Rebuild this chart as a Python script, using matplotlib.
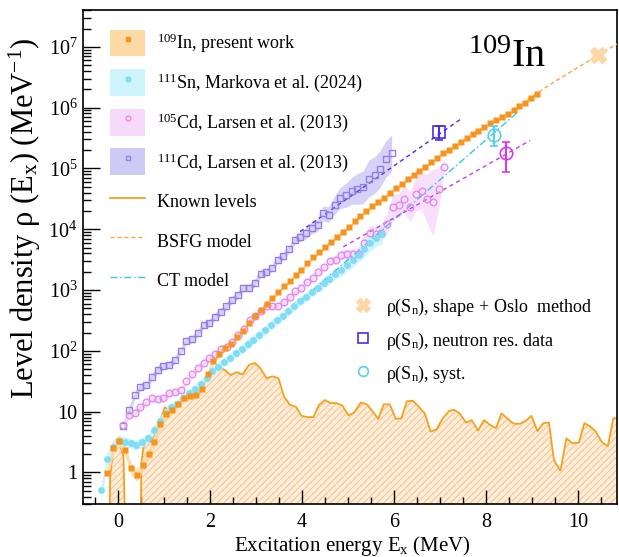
import numpy as np
import matplotlib
matplotlib.use('Agg')
import matplotlib.pyplot as plt
from matplotlib.patches import Patch
from matplotlib.lines import Line2D
from matplotlib.ticker import FixedLocator, NullFormatter

plt.rcParams['font.family'] = ['Liberation Serif', 'DejaVu Serif']
plt.rcParams['mathtext.fontset'] = 'custom'
plt.rcParams['mathtext.rm'] = 'Liberation Serif'
plt.rcParams['mathtext.it'] = 'Liberation Serif:italic'
plt.rcParams['hatch.linewidth'] = 0.8

# ---------------- data ----------------
# 109In, present work (log10 rho)
in109_E = [-0.23, -0.10, 0.03, 0.15, 0.28, 0.41, 0.54, 0.67, 0.79, 0.92,
           1.05, 1.18, 1.31, 1.43, 1.56, 1.69, 1.82, 1.95, 2.07, 2.20,
           2.33, 2.46, 2.59, 2.71, 2.84, 2.97, 3.10, 3.23, 3.35, 3.48,
           3.61, 3.74, 3.87, 3.99, 4.12, 4.25, 4.38, 4.51, 4.63, 4.76,
           4.89, 5.02, 5.15, 5.27, 5.40, 5.53, 5.66, 5.79, 5.91, 6.04,
           6.17, 6.30, 6.43, 6.55, 6.68, 6.81, 6.94, 7.07, 7.19, 7.32,
           7.45, 7.58, 7.71, 7.83, 7.96, 8.09, 8.22, 8.35, 8.47, 8.60,
           8.73, 8.86, 8.99, 9.11]
in109_log = [-0.015, 0.40, 0.52, 0.37, 0.07, -0.05, 0.13, 0.30, 0.50, 0.79,
             0.955, 1.02, 1.125, 1.22, 1.25, 1.27, 1.38, 1.62, 1.83, 1.95,
             2.04, 2.11, 2.22, 2.33, 2.46, 2.58, 2.67, 2.77, 2.87, 2.96,
             3.06, 3.15, 3.24, 3.33, 3.44, 3.54, 3.62, 3.70, 3.79, 3.88,
             3.96, 4.04, 4.13, 4.22, 4.30, 4.38, 4.45, 4.52, 4.60, 4.67,
             4.74, 4.82, 4.89, 4.96, 5.03, 5.10, 5.17, 5.25, 5.31, 5.37,
             5.44, 5.50, 5.56, 5.62, 5.68, 5.74, 5.79, 5.85, 5.90, 5.96,
             6.02, 6.08, 6.15, 6.23]
in109_err = [0.10, 0.10, 0.10, 0.10, 0.10, 0.10, 0.10, 0.10, 0.10, 0.10,
             0.06, 0.06, 0.06, 0.06, 0.06, 0.06, 0.06, 0.06, 0.06, 0.06,
             0.04, 0.04, 0.04, 0.04, 0.04, 0.03, 0.03, 0.03, 0.03, 0.03,
             0.03, 0.03, 0.03, 0.03, 0.03, 0.03, 0.03, 0.03, 0.03, 0.03,
             0.03, 0.03, 0.03, 0.03, 0.03, 0.03, 0.03, 0.03, 0.03, 0.03,
             0.03, 0.03, 0.03, 0.03, 0.03, 0.03, 0.03, 0.03, 0.03, 0.03,
             0.03, 0.03, 0.03, 0.03, 0.03, 0.03, 0.03, 0.03, 0.03, 0.03,
             0.03, 0.03, 0.03, 0.03]

# 111Sn, Markova et al. (2024)
sn111_E = [-0.36, -0.23, -0.11, 0.02, 0.15, 0.28, 0.40, 0.53, 0.66, 0.78,
           0.91, 1.04, 1.16, 1.29, 1.42, 1.55, 1.67, 1.80, 1.93, 2.05,
           2.18, 2.31, 2.43, 2.56, 2.69, 2.82, 2.94, 3.07, 3.20, 3.32,
           3.45, 3.58, 3.70, 3.83, 3.96, 4.09, 4.21, 4.34, 4.47, 4.59,
           4.72, 4.85, 4.97, 5.10, 5.23, 5.36, 5.48, 5.61, 5.74]
sn111_log = [-0.29, 0.22, 0.42, 0.52, 0.505, 0.48, 0.445, 0.50, 0.56, 0.70,
             0.84, 0.97, 1.07, 1.12, 1.22, 1.30, 1.38, 1.46, 1.56, 1.66,
             1.74, 1.82, 1.89, 1.96, 2.03, 2.11, 2.18, 2.26, 2.34, 2.42,
             2.50, 2.58, 2.66, 2.74, 2.82, 2.89, 2.96, 3.04, 3.11, 3.18,
             3.26, 3.33, 3.41, 3.49, 3.58, 3.68, 3.78, 3.86, 3.92]
sn111_err = [0.12, 0.12, 0.12, 0.10, 0.08, 0.08, 0.08, 0.08, 0.08, 0.08,
             0.08, 0.08, 0.08, 0.08, 0.08, 0.08, 0.08, 0.08, 0.08, 0.08,
             0.08, 0.08, 0.08, 0.08, 0.08, 0.08, 0.08, 0.08, 0.08, 0.08,
             0.08, 0.08, 0.08, 0.08, 0.08, 0.08, 0.08, 0.08, 0.08, 0.09,
             0.09, 0.10, 0.10, 0.12, 0.12, 0.14, 0.14, 0.15, 0.15]

# 105Cd, Larsen et al. (2013)
cd105_E = [0.12, 0.24, 0.37, 0.49, 0.62, 0.74, 0.87, 0.99, 1.12, 1.24,
           1.37, 1.49, 1.61, 1.74, 1.86, 1.99, 2.11, 2.24, 2.36, 2.49,
           2.61, 2.73, 2.86, 2.98, 3.11, 3.23, 3.36, 3.48, 3.61, 3.73,
           3.86, 3.98, 4.10, 4.23, 4.35, 4.48, 4.60, 4.73, 4.85, 4.98,
           5.10, 5.23, 5.35, 5.48, 5.60, 5.72, 5.85, 5.97, 6.10, 6.22,
           6.35, 6.47, 6.60, 6.72, 6.85, 6.97, 7.09]
cd105_log = [0.78, 0.95, 0.98, 1.08, 1.15, 1.22, 1.21, 1.22, 1.31, 1.32,
             1.35, 1.50, 1.62, 1.72, 1.80, 1.89, 1.95, 2.03, 2.07, 2.15,
             2.26, 2.36, 2.50, 2.58, 2.66, 2.73, 2.74, 2.74, 2.80, 2.88,
             2.98, 3.04, 3.13, 3.20, 3.29, 3.38, 3.48, 3.50, 3.58, 3.59,
             3.59, 3.60, 3.78, 3.94, 3.92, 3.94, 4.09, 4.37, 4.39, 4.50,
             4.37, 4.58, 4.63, 4.50, 4.44, 4.66, 5.03]
cd105_err = [0.05, 0.05, 0.05, 0.05, 0.05, 0.05, 0.05, 0.05, 0.05, 0.05,
             0.05, 0.05, 0.05, 0.05, 0.05, 0.05, 0.05, 0.05, 0.05, 0.05,
             0.05, 0.05, 0.05, 0.05, 0.05, 0.05, 0.05, 0.05, 0.05, 0.05,
             0.05, 0.05, 0.05, 0.05, 0.05, 0.05, 0.06, 0.07, 0.08, 0.08,
             0.09, 0.10, 0.12, 0.12, 0.13, 0.14, 0.16, 0.20, 0.20, 0.22,
             0.25, 0.28, 0.30, 0.40, 0.55, 0.35, 0.12]

# 111Cd, Larsen et al. (2013)
cd111_E = [0.12, 0.24, 0.37, 0.49, 0.62, 0.74, 0.86, 0.99, 1.11, 1.24,
           1.36, 1.48, 1.61, 1.73, 1.86, 1.98, 2.10, 2.23, 2.35, 2.48,
           2.60, 2.72, 2.85, 2.97, 3.10, 3.22, 3.34, 3.47, 3.59, 3.72,
           3.84, 3.96, 4.09, 4.21, 4.34, 4.46, 4.58, 4.71, 4.83, 4.96,
           5.08, 5.20, 5.33, 5.45, 5.58, 5.70, 5.82, 5.95]
cd111_log = [0.76, 1.03, 1.27, 1.41, 1.44, 1.57, 1.69, 1.75, 1.77, 1.85,
             2.00, 2.16, 2.19, 2.29, 2.42, 2.46, 2.56, 2.64, 2.73, 2.84,
             2.91, 3.03, 3.04, 3.11, 3.27, 3.29, 3.36, 3.49, 3.56, 3.67,
             3.82, 3.88, 3.93, 4.02, 4.07, 4.26, 4.24, 4.40, 4.51, 4.56,
             4.63, 4.66, 4.69, 4.83, 4.89, 4.99, 5.15, 5.25]
cd111_err = [0.06, 0.06, 0.06, 0.06, 0.06, 0.06, 0.06, 0.06, 0.06, 0.06,
             0.06, 0.06, 0.06, 0.06, 0.06, 0.06, 0.06, 0.06, 0.06, 0.06,
             0.06, 0.06, 0.06, 0.06, 0.06, 0.06, 0.06, 0.06, 0.06, 0.06,
             0.07, 0.08, 0.09, 0.10, 0.10, 0.12, 0.13, 0.15, 0.17, 0.20,
             0.22, 0.25, 0.27, 0.30, 0.30, 0.30, 0.30, 0.30]

# Known levels of 109In (log10 rho; -3 = no levels)
kl_E = [-0.30, -0.22, -0.17, -0.11, 0.02, 0.12, 0.22, 0.46, 0.51, 0.55,
        0.64, 0.71, 0.80, 0.91, 1.02, 1.12, 1.23, 1.34, 1.45, 1.57,
        1.70, 1.80, 1.93, 2.07, 2.20, 2.33, 2.45, 2.58, 2.71, 2.85,
        2.98, 3.10, 3.23, 3.36, 3.49, 3.61, 3.74, 3.87, 3.99, 4.12,
        4.25, 4.37, 4.50, 4.62, 4.75, 4.88, 5.01, 5.13, 5.28, 5.41,
        5.54, 5.66, 5.78, 5.91, 6.04, 6.16, 6.28, 6.41, 6.53, 6.67,
        6.80, 6.93, 7.06, 7.20, 7.31, 7.43, 7.57, 7.69, 7.83, 7.96,
        8.09, 8.22, 8.34, 8.46, 8.61, 8.74, 8.87, 8.99, 9.12, 9.25,
        9.37, 9.48, 9.62, 9.75, 9.88, 10.02, 10.14, 10.26, 10.39, 10.52,
        10.65, 10.77, 10.95]
kl_log = [-3, -3, -0.07, 0.33, 0.50, 0.27, -3, -3, 0.15, 0.40,
          0.60, 0.50, 0.64, 0.84, 1.07, 1.02, 1.08, 1.14, 1.25, 1.27,
          1.30, 1.37, 1.55, 1.68, 1.74, 1.68, 1.60, 1.65, 1.61, 1.77,
          1.80, 1.71, 1.55, 1.58, 1.55, 1.25, 1.11, 1.08, 0.93, 0.91,
          0.91, 1.11, 1.19, 1.14, 1.14, 1.10, 0.94, 0.98, 1.15, 1.12,
          1.00, 0.88, 1.12, 1.12, 0.88, 0.89, 1.17, 1.18, 1.09, 0.97,
          0.67, 0.71, 0.89, 1.01, 1.03, 0.97, 0.82, 0.86, 0.69, 0.86,
          0.78, 0.73, 0.97, 0.89, 0.80, 0.80, 0.85, 0.93, 0.68, 0.81,
          0.82, 0.20, 0.03, 0.56, 0.48, 0.49, 0.81, 0.76, 0.67, 0.50,
          0.43, 0.89, 0.89]

# Model curves (read points, log10 rho)
bsfg_E = [8.9, 9.5, 10.0, 10.5, 10.95]
bsfg_log = [6.13, 6.43, 6.66, 6.89, 7.09]
ct_E = [4.0, 8.67]
ct_log = [2.84, 5.91]
cd105_line_E = [4.9, 8.96]
cd105_line_log = [3.71, 5.46]
cd111_line_E = [3.96, 7.45]
cd111_line_log = [3.96, 5.81]

# rho(Sn) points: (E, rho, err)
sn_in109 = (10.43, 7.2e6, 0.3e6)
sn_cd111 = (6.98, 3.9e5, 1.0e5)
sn_sn111 = (8.17, 3.6e5, 1.3e5)
sn_cd105 = (8.43, 1.78e5, 0.9e5)

# ---------------- colours ----------------
c_in = '#F7941D'
c_in_band = '#FDD9A6'
c_sn = '#7FDDF5'
c_sn_band = '#CDF3FC'
c_cd105 = '#E48AF2'
c_cd105_band = '#F7DAFB'
c_cd111 = '#8F80E6'
c_cd111_band = '#CFC9F5'
c_kl = '#F7A01E'

def arr(v):
    return 10 ** np.asarray(v, dtype=float)

fig = plt.figure(figsize=(6.19, 5.57), dpi=100)
ax = fig.add_axes([83 / 619, 1 - 504.3 / 557, 534 / 619, 494.3 / 557])
ax.set_yscale('log')

# known levels
kE = np.asarray(kl_E)
kv = arr(kl_log)
ax.fill_between(kE, 1e-3, kv, facecolor='#FFEEDC', edgecolor='#F9C48C',
                hatch='/////', linewidth=0, zorder=1)
ax.plot(kE, kv, color=c_kl, lw=1.3, zorder=2)

# bands
def band(E, lg, er, col, z):
    lg = np.asarray(lg); er = np.asarray(er)
    ax.fill_between(E, 10 ** (lg - er), 10 ** (lg + er), color=col,
                    linewidth=0, alpha=0.85, zorder=z)

band(cd111_E, cd111_log, cd111_err, c_cd111_band, 3)
band(cd105_E, cd105_log, cd105_err, c_cd105_band, 3)
band(sn111_E, sn111_log, sn111_err, c_sn_band, 3)
band(in109_E, in109_log, in109_err, c_in_band, 3)

# model lines
ax.plot(bsfg_E, arr(bsfg_log), ls=(0, (3, 2)), color='#FFA640', lw=1.0, zorder=4)
ax.plot(ct_E, arr(ct_log), ls=(0, (5, 2, 1, 2)), color='#33C6EE', lw=1.0, zorder=4)
ax.plot(cd105_line_E, arr(cd105_line_log), ls=(0, (3, 2.5)), color='#C43CEE', lw=1.0, zorder=4)
ax.plot(cd111_line_E, arr(cd111_line_log), ls=(0, (3, 2.5)), color='#4A2CE6', lw=1.0, zorder=4)

# data points
ax.plot(cd111_E, arr(cd111_log), ls='none', marker='s', ms=4.6, mfc='none',
        mec=c_cd111, mew=1.0, zorder=5)
ax.plot(cd105_E, arr(cd105_log), ls='none', marker='o', ms=4.8, mfc='none',
        mec=c_cd105, mew=1.0, zorder=5)
ax.plot(sn111_E, arr(sn111_log), ls='none', marker='o', ms=5.0, mfc=c_sn,
        mec='none', zorder=5)
ax.plot(in109_E, arr(in109_log), ls='none', marker='s', ms=5.0, mfc=c_in,
        mec='none', zorder=6)

# rho(Sn) points
ax.errorbar(sn_in109[0], sn_in109[1], yerr=sn_in109[2], fmt='X', ms=11,
            color='#FFD6A6', mec='#FFD6A6', ecolor='#F0A040', capsize=2, zorder=7)
ax.errorbar(sn_cd111[0], sn_cd111[1], yerr=sn_cd111[2], fmt='s', ms=8.5,
            mfc='none', mec='#4A2CE6', ecolor='#4A2CE6', mew=1.2, capsize=3, zorder=7)
ax.errorbar(sn_sn111[0], sn_sn111[1], yerr=sn_sn111[2], fmt='o', ms=9,
            mfc='none', mec='#55D0F2', ecolor='#55D0F2', mew=1.2, capsize=3, zorder=7)
ax.errorbar(sn_cd105[0], sn_cd105[1], yerr=sn_cd105[2], fmt='o', ms=9,
            mfc='none', mec='#D23CE8', ecolor='#D23CE8', mew=1.2, capsize=3, zorder=7)

# axes
ax.set_xlim(-0.76, 10.85)
ax.set_ylim(0.299, 4.03e7)
ax.set_xticks([0, 2, 4, 6, 8, 10])
ax.xaxis.set_minor_locator(FixedLocator([-0.5, 0.5, 1, 1.5, 2.5, 3, 3.5, 4.5, 5, 5.5,
                                         6.5, 7, 7.5, 8.5, 9, 9.5, 10.5]))
yt = [1, 10, 1e2, 1e3, 1e4, 1e5, 1e6, 1e7]
ax.yaxis.set_major_locator(FixedLocator(yt))
ax.set_yticklabels(['1', '10'] + [r'10$\mathregular{^{%d}}$' % k for k in range(2, 8)])
ax.yaxis.set_minor_locator(FixedLocator([m * 10.0 ** d for d in range(-1, 8)
                                         for m in range(2, 10)]))
ax.yaxis.set_minor_formatter(NullFormatter())
ax.tick_params(which='both', direction='in', top=False, right=False,
               labelsize=14.5, width=1.0)
ax.tick_params(axis='x', which='major', length=10, pad=6)
ax.tick_params(axis='x', which='minor', length=5)
ax.tick_params(axis='y', which='major', length=12, pad=4)
ax.tick_params(axis='y', which='minor', length=6)
for s in ax.spines.values():
    s.set_linewidth(1.2)

fig.text(352 / 619, 1 - 551 / 557, r'Excitation energy E$\mathregular{_x}$ (MeV)',
         ha='center', va='baseline', fontsize=15)
fig.text(25 / 619, 1 - 38 / 557, r'Level density ρ (E$\mathregular{_x}$) (MeV$\mathregular{^{-1}}$)',
         ha='center', va='top', rotation=90, fontsize=22)

ax.text(0.868, 0.885, r'$\mathregular{^{109}}$In', transform=ax.transAxes,
        ha='right', va='baseline', fontsize=29)

# legends
h1 = [
    (Patch(facecolor=c_in_band, edgecolor='none'),
     Line2D([], [], ls='none', marker='s', ms=3.5, color=c_in)),
    (Patch(facecolor=c_sn_band, edgecolor='none'),
     Line2D([], [], ls='none', marker='o', ms=3.5, color=c_sn)),
    (Patch(facecolor=c_cd105_band, edgecolor='none'),
     Line2D([], [], ls='none', marker='o', ms=3.5, mfc='none', mec=c_cd105)),
    (Patch(facecolor=c_cd111_band, edgecolor='none'),
     Line2D([], [], ls='none', marker='s', ms=3.5, mfc='none', mec=c_cd111)),
    Line2D([], [], color=c_kl, lw=1.3),
    Line2D([], [], color='#FFA640', lw=1.0, ls=(0, (3, 2))),
    Line2D([], [], color='#33C6EE', lw=1.0, ls=(0, (5, 2, 1, 2))),
]
l1 = [r'$\mathregular{^{109}}$In, present work',
      r'$\mathregular{^{111}}$Sn, Markova et al. (2024)',
      r'$\mathregular{^{105}}$Cd, Larsen et al. (2013)',
      r'$\mathregular{^{111}}$Cd, Larsen et al. (2013)',
      'Known levels', 'BSFG model', 'CT model']
leg1 = fig.legend(h1, l1, loc='upper left', bbox_to_anchor=(110 / 619, 1 - 29.5 / 557),
                  frameon=False, fontsize=13, handlelength=1.94, handleheight=1.92,
                  labelspacing=0.70, handletextpad=0.66, borderpad=0, borderaxespad=0)

h2 = [Line2D([], [], ls='none', marker='X', ms=10, color='#FFD6A6'),
      Line2D([], [], ls='none', marker='s', ms=7, mfc='none', mec='#4A2CE6', mew=1.2),
      Line2D([], [], ls='none', marker='o', ms=7, mfc='none', mec='#55D0F2', mew=1.2)]
l2 = [r'ρ(S$\mathregular{_n}$), shape + Oslo  method',
      r'ρ(S$\mathregular{_n}$), neutron res. data',
      r'ρ(S$\mathregular{_n}$), syst.']
leg2 = fig.legend(h2, l2, loc='upper left', bbox_to_anchor=(352 / 619, 1 - 297 / 557),
                  frameon=False, fontsize=13, handlelength=1.2, handleheight=1.2,
                  labelspacing=0.65, handletextpad=0.68, borderpad=0, borderaxespad=0)

fig.savefig('out.png', dpi=100)
